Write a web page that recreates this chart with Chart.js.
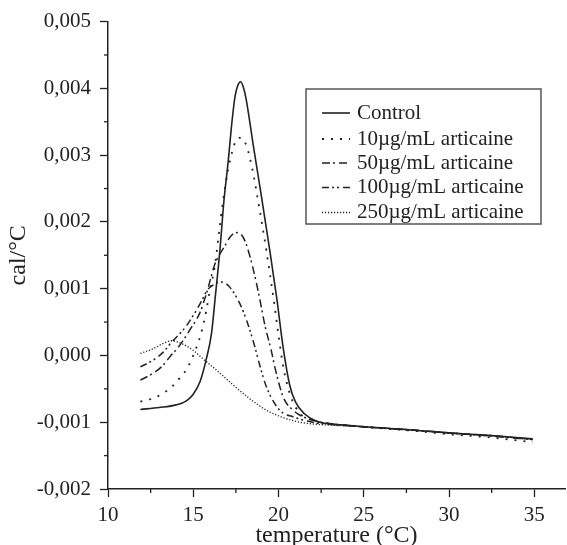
<!DOCTYPE html>
<html>
<head>
<meta charset="utf-8">
<script src="https://cdn.jsdelivr.net/npm/chart.js@4.4.1/dist/chart.umd.min.js"></script>
<style>
html, body { margin: 0; padding: 0; background: #fff; }
canvas { display: block; }
</style>
</head>
<body>
<canvas id="dscChart" width="567" height="545"></canvas>
<script>
// series names (legend order)
const seriesLabels = ["Control", "10µg/mL articaine", "50µg/mL articaine", "100µg/mL articaine", "250µg/mL articaine"];

// temperature (°C) and heat capacity (cal/°C)
const tempControl = [11.9, 13.0, 14.0, 14.6, 15.0, 15.4, 15.75, 16.07, 16.3, 16.56, 16.8, 17.05, 17.25, 17.45, 17.62, 17.77, 17.92, 18.1, 18.5, 19.0, 19.5, 19.9, 20.27, 20.66, 21.0, 21.5, 22.2, 24.2, 27, 30, 32.5, 34.9];
const calControl = [-0.00081, -0.00078, -0.00074, -0.00068, -0.00058, -0.00039, -0.00007, 0.00033, 0.00090, 0.00157, 0.00232, 0.00291, 0.00345, 0.00388, 0.00405, 0.00410, 0.00403, 0.00384, 0.00318, 0.00238, 0.00155, 0.00085, 0.00012, -0.00045, -0.00070, -0.00087, -0.00098, -0.00105, -0.00110, -0.00116, -0.00120, -0.00125];

const temp10 = [11.9, 12.55, 13.14, 13.69, 14.2, 14.65, 15.2, 15.48, 15.77, 15.97, 16.27, 16.5, 16.75, 17.05, 17.3, 17.47, 17.7, 17.89, 18.16, 18.32, 18.55, 18.8, 19.3, 19.72, 20.0, 20.3, 20.7, 21.2, 22.0, 23.0, 25.0, 28.0, 30.0, 32.5, 34.9];
const cal10 = [-0.00069, -0.00065, -0.00058, -0.00048, -0.00034, -0.00019, 0.00013, 0.00035, 0.00068, 0.00097, 0.00135, 0.00182, 0.00232, 0.00279, 0.00307, 0.00320, 0.00326, 0.00325, 0.00311, 0.00296, 0.00268, 0.00232, 0.00155, 0.00083, 0.00030, -0.00020, -0.00060, -0.00085, -0.00097, -0.00102, -0.00107, -0.00113, -0.00118, -0.00123, -0.00130];

const temp50 = [11.9, 12.55, 13.14, 13.63, 14.2, 14.79, 15.37, 15.8, 16.27, 16.85, 17.15, 17.4, 17.63, 17.85, 18.1, 18.49, 18.84, 19.22, 19.57, 19.78, 20.27, 20.86, 21.63, 23.0, 25.0, 28.0, 30.0, 32.5, 34.9];
const cal50 = [-0.00037, -0.00028, -0.00017, -0.00002, 0.00015, 0.00038, 0.00063, 0.00095, 0.00137, 0.00164, 0.00177, 0.00183, 0.00184, 0.00180, 0.00167, 0.00132, 0.00092, 0.00043, 0.00008, -0.00017, -0.00062, -0.00082, -0.00094, -0.00102, -0.00107, -0.00112, -0.00116, -0.00121, -0.00126];

const temp100 = [11.9, 12.65, 13.24, 13.73, 14.3, 14.7, 15.19, 15.5, 15.8, 16.2, 16.6, 16.9, 17.15, 17.54, 17.93, 18.32, 18.61, 18.85, 19.29, 20.07, 20.86, 22.0, 23.0, 25.0, 28.0, 30.0, 32.5, 34.9];
const cal100 = [-0.00017, -0.00007, 0.00005, 0.00020, 0.00035, 0.00048, 0.00068, 0.00082, 0.00097, 0.00106, 0.00110, 0.00108, 0.00102, 0.00087, 0.00066, 0.00038, 0.00013, -0.00010, -0.00047, -0.00082, -0.00092, -0.00100, -0.00103, -0.00107, -0.00112, -0.00116, -0.00120, -0.00126];

const temp250 = [11.9, 12.65, 13.24, 13.73, 14.3, 14.98, 15.57, 16.36, 17.33, 18.32, 19.29, 20.27, 21.25, 22.2, 23.5, 25.0, 28.0, 30.0, 32.5, 34.9];
const cal250 = [0.00003, 0.00010, 0.00018, 0.00022, 0.00018, 0.00008, -0.00005, -0.00022, -0.00044, -0.00065, -0.00082, -0.00093, -0.00100, -0.00103, -0.00105, -0.00107, -0.00112, -0.00116, -0.00120, -0.00125];

// axis ticks
const xMajor = [10, 15, 20, 25, 30, 35];
const xMinor = [12.5, 17.5, 22.5, 27.5, 32.5];
const yMinor = [-0.0015, -0.0005, 0.0005, 0.0015, 0.0025, 0.0035, 0.0045];

const serif = "'Liberation Serif', 'Times New Roman', serif";
const ink = "#222";

function pts(xs, ys) {
    return xs.map((t, i) => ({ x: t, y: ys[i] }));
}

const styles = [
    { dash: [], width: 1.6 },
    { dash: [2, 7], width: 1.8 },
    { dash: [8, 3, 2, 4], width: 1.5 },
    { dash: [7, 3, 2, 3, 2, 4], width: 1.5 },
    { dash: [1.2, 1.8], width: 1.3 }
];

const seriesData = [
    pts(tempControl, calControl),
    pts(temp10, cal10),
    pts(temp50, cal50),
    pts(temp100, cal100),
    pts(temp250, cal250)
];

const datasets = seriesData.map((d, i) => ({
    label: seriesLabels[i],
    data: d,
    borderColor: ink,
    borderWidth: styles[i].width,
    borderDash: styles[i].dash,
    pointRadius: 0,
    fill: false,
    cubicInterpolationMode: "monotone"
}));

// minor tick marks on both axes
const minorTicks = {
    id: "minorTicks",
    afterDraw(chart) {
        const ctx = chart.ctx, xs = chart.scales.x, ys = chart.scales.y;
        ctx.save();
        ctx.strokeStyle = ink;
        ctx.lineWidth = 1.3;
        xMinor.forEach(v => {
            const px = xs.getPixelForValue(v);
            ctx.beginPath(); ctx.moveTo(px, xs.top); ctx.lineTo(px, xs.top + 4); ctx.stroke();
        });
        yMinor.forEach(v => {
            const py = ys.getPixelForValue(v);
            ctx.beginPath(); ctx.moveTo(ys.right - 4, py); ctx.lineTo(ys.right, py); ctx.stroke();
        });
        ctx.restore();
    }
};

// boxed legend inside the plot
const boxLegend = {
    id: "boxLegend",
    afterDatasetsDraw(chart) {
        const ctx = chart.ctx;
        const rows = [113, 139, 163, 187.5, 212.5];
        ctx.save();
        ctx.fillStyle = "#fff";
        ctx.fillRect(306, 89, 235, 135);
        ctx.strokeStyle = "#555";
        ctx.lineWidth = 1.5;
        ctx.strokeRect(306, 89, 235, 135);
        ctx.font = "21px " + serif;
        ctx.textBaseline = "middle";
        ctx.textAlign = "left";
        chart.data.datasets.forEach((ds, i) => {
            ctx.strokeStyle = ink;
            ctx.lineWidth = ds.borderWidth;
            ctx.setLineDash(ds.borderDash);
            ctx.beginPath(); ctx.moveTo(322, rows[i]); ctx.lineTo(350, rows[i]); ctx.stroke();
            ctx.setLineDash([]);
            ctx.fillStyle = ink;
            ctx.fillText(ds.label, 357, rows[i]);
        });
        ctx.restore();
    }
};

new Chart(document.getElementById("dscChart"), {
    type: "line",
    data: { datasets: datasets },
    options: {
        responsive: false,
        animation: false,
        layout: { padding: { top: 20, right: 2, left: 0, bottom: 0 } },
        plugins: { legend: { display: false }, tooltip: { enabled: false } },
        scales: {
            x: {
                type: "linear",
                min: 10,
                max: 36.8,
                afterBuildTicks: s => { s.ticks = xMajor.map(v => ({ value: v })); },
                afterFit: s => { s.height = 56; },
                ticks: { font: { family: serif, size: 21 }, color: ink, padding: 6, maxRotation: 0, autoSkip: false },
                grid: { drawOnChartArea: false, tickLength: 8, color: ink, tickWidth: 1.3 },
                border: { color: ink, width: 1.5 },
                title: { display: true, text: "temperature (°C)", color: ink, font: { family: serif, size: 24, lineHeight: 0.8 }, padding: 0 }
            },
            y: {
                min: -0.002,
                max: 0.005,
                afterFit: s => { s.width = 108; },
                ticks: {
                    stepSize: 0.001,
                    font: { family: serif, size: 21 },
                    color: ink,
                    padding: 9,
                    callback: v => (Math.abs(v) < 1e-9 ? 0 : v).toFixed(3).replace(".", ",")
                },
                grid: { drawOnChartArea: false, tickLength: 8, color: ink, tickWidth: 1.3 },
                border: { color: ink, width: 1.5 },
                title: { display: true, text: "cal/°C", color: ink, font: { family: serif, size: 24 }, padding: { top: 4.6, bottom: 0 } }
            }
        }
    },
    plugins: [minorTicks, boxLegend]
});
</script>
</body>
</html>
